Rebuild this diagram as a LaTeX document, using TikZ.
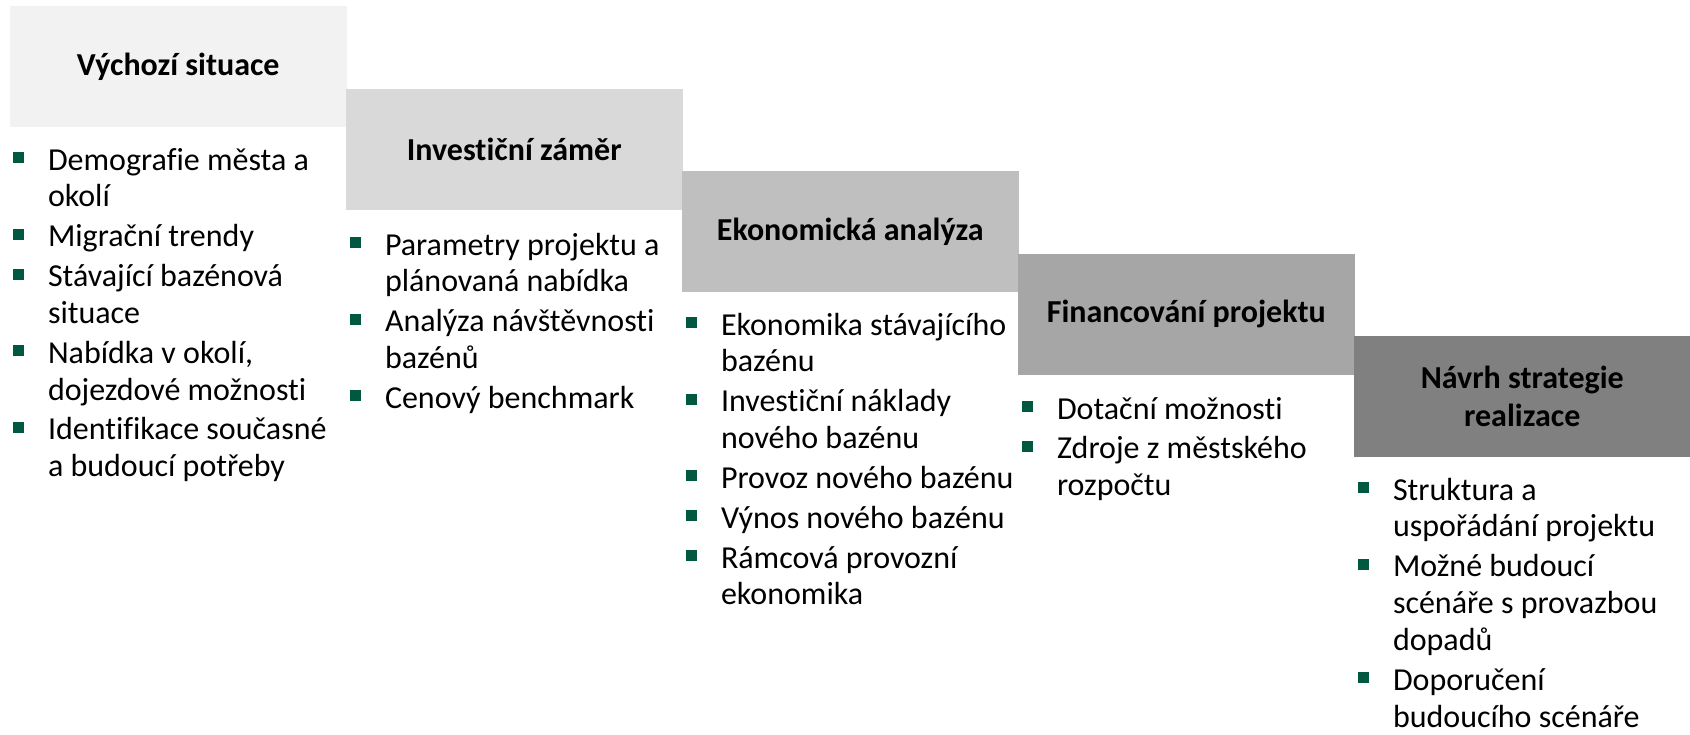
\documentclass[tikz,border=0pt]{standalone}
\usepackage{fontspec}
\setmainfont{Carlito}[Ligatures=NoCommon]
\usepackage{array}
\definecolor{cA}{HTML}{F2F2F2}
\definecolor{cB}{HTML}{D9D9D9}
\definecolor{cC}{HTML}{BFBFBF}
\definecolor{cD}{HTML}{A6A6A6}
\definecolor{cE}{HTML}{808080}
\definecolor{bgreen}{HTML}{005840}
\newcommand{\sq}{\textcolor{bgreen}{\rule[7pt]{11pt}{11pt}}}
\tikzset{
  stage/.style={anchor=north west, minimum width=336.5pt, minimum height=121pt,
    inner sep=0pt, outer sep=0pt, draw=none, align=center,
    font=\fontsize{32}{38}\selectfont\bfseries},
  lst/.style={anchor=north west, inner sep=0pt, outer sep=0pt,
    font=\fontsize{32}{36.9}\selectfont}
}
\begin{document}
\begin{tikzpicture}[x=1pt,y=-1pt]
\useasboundingbox (0,0) rectangle (1690,734);
\fill[white] (0,0) rectangle (1690,734);
\node[stage, fill=cA] (s1) at (10,6) {Výchozí situace};
\node[stage, fill=cB] (s2) at (346,88.5) {Investiční záměr};
\node[stage, fill=cC] (s3) at (682,171) {Ekonomická analýza};
\node[stage, fill=cD] (s4) at (1018,253.5) {Financování projektu};
\node[stage, fill=cE] (s5) at (1354,336) {Návrh strategie\\realizace};

\node[lst] (l1) at (13,144.2) {\begin{tabular}{@{}l@{\hspace{24pt}}l@{}}
\sq & Demografie města a\\
    & okolí\\[2.9pt]
\sq & Migrační trendy\\[2.9pt]
\sq & Stávající bazénová\\
    & situace\\[2.9pt]
\sq & Nabídka v okolí,\\
    & dojezdové možnosti\\[2.9pt]
\sq & Identifikace současné\\
    & a budoucí potřeby
\end{tabular}};

\node[lst] (l2) at (350,229.2) {\begin{tabular}{@{}l@{\hspace{24pt}}l@{}}
\sq & Parametry projektu a\\
    & plánovaná nabídka\\[2.9pt]
\sq & Analýza návštěvnosti\\
    & bazénů\\[2.9pt]
\sq & Cenový benchmark
\end{tabular}};

\node[lst] (l3) at (686,309.2) {\begin{tabular}{@{}l@{\hspace{24pt}}l@{}}
\sq & Ekonomika stávajícího\\
    & bazénu\\[2.9pt]
\sq & Investiční náklady\\
    & nového bazénu\\[2.9pt]
\sq & Provoz nového bazénu\\[2.9pt]
\sq & Výnos nového bazénu\\[2.9pt]
\sq & Rámcová provozní\\
    & ekonomika
\end{tabular}};

\node[lst] (l4) at (1022,393.2) {\begin{tabular}{@{}l@{\hspace{24pt}}l@{}}
\sq & Dotační možnosti\\[2.9pt]
\sq & Zdroje z městského\\
    & rozpočtu
\end{tabular}};

\node[lst] (l5) at (1358,474.2) {\begin{tabular}{@{}l@{\hspace{24pt}}l@{}}
\sq & Struktura a\\
    & uspořádání projektu\\[2.9pt]
\sq & Možné budoucí\\
    & scénáře s provazbou\\
    & dopadů\\[2.9pt]
\sq & Doporučení\\
    & budoucího scénáře
\end{tabular}};
\end{tikzpicture}
\end{document}
